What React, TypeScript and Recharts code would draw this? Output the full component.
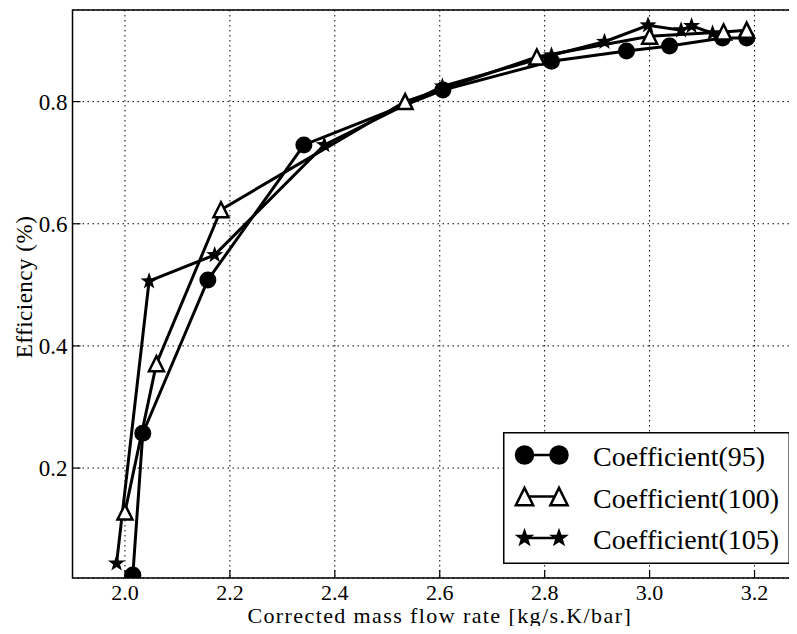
import React from 'react';
import { LineChart, Line, XAxis, YAxis, CartesianGrid, ReferenceArea, Legend } from 'recharts';

// corrected mass flow rate (x) and efficiency (y) per coefficient
const flow95 = [2.015, 2.034, 2.158, 2.341, 2.606, 2.813, 2.956, 3.038, 3.139, 3.185];
const eff95 = [0.025, 0.257, 0.508, 0.729, 0.819, 0.866, 0.883, 0.891, 0.904, 0.904];
const flow100 = [2.0, 2.06, 2.183, 2.534, 2.785, 3.0, 3.141, 3.185];
const eff100 = [0.128, 0.371, 0.623, 0.8, 0.873, 0.907, 0.914, 0.917];
const flow105 = [1.984, 2.046, 2.171, 2.38, 2.605, 2.813, 2.914, 2.997, 3.06, 3.08, 3.12];
const eff105 = [0.044, 0.506, 0.549, 0.729, 0.825, 0.876, 0.898, 0.925, 0.917, 0.924, 0.912];

const xTicks = [2.0, 2.2, 2.4, 2.6, 2.8, 3.0, 3.2];
const yTicks = [0.2, 0.4, 0.6, 0.8];
const seriesNames = ['Coefficient(95)', 'Coefficient(100)', 'Coefficient(105)'];
const markers = ['circle', 'triangle', 'star'];

const FONT = '"Liberation Serif", "Times New Roman", serif';

const toPoints = (xs: number[], ys: number[]) => xs.map((x, i) => ({ x, y: ys[i] }));
const d95 = toPoints(flow95, eff95);
const d100 = toPoints(flow100, eff100);
const d105 = toPoints(flow105, eff105);

const starPath = (cx: number, cy: number, R: number) => {
  const r = R * 0.4;
  let d = '';
  for (let i = 0; i < 10; i++) {
    const a = -Math.PI / 2 + (i * Math.PI) / 5;
    const rad = i % 2 === 0 ? R : r;
    d += (i === 0 ? 'M' : 'L') + (cx + rad * Math.cos(a)).toFixed(2) + ',' + (cy + rad * Math.sin(a)).toFixed(2);
  }
  return d + 'Z';
};

const Marker = ({ kind, cx, cy, scale = 1 }: { kind: string; cx: number; cy: number; scale?: number }) => {
  if (kind === 'circle') return <circle cx={cx} cy={cy} r={8.5 * scale} fill="#000" />;
  if (kind === 'triangle') {
    const h = 7.5 * scale;
    return (
      <path
        d={`M${cx},${cy - h}L${cx - h},${cy + h}L${cx + h},${cy + h}Z`}
        fill="#fff"
        stroke="#000"
        strokeWidth={2.5}
        strokeLinejoin="miter"
      />
    );
  }
  return <path d={starPath(cx, cy, 9 * scale)} fill="#000" />;
};

const dotFor = (kind: string) => (p: any) =>
  <Marker key={`${kind}-${p.index}`} kind={kind} cx={p.cx} cy={p.cy} />;

const XTick = (props: any) => {
  const { x, y, payload } = props;
  return (
    <g>
      <line x1={x} x2={x} y1={y} y2={y - 8} stroke="#000" strokeWidth={1.2} />
      <text x={x} y={y + 22} textAnchor="middle" fontSize={22} fontFamily={FONT} fill="#000">
        {Number(payload.value).toFixed(1)}
      </text>
    </g>
  );
};

const TopTick = (props: any) => {
  const { x, y } = props;
  return <line x1={x} x2={x} y1={y} y2={y + 8} stroke="#000" strokeWidth={1.2} />;
};

const YTick = (props: any) => {
  const { x, y, payload } = props;
  return (
    <g>
      <line x1={x} x2={x + 8} y1={y} y2={y} stroke="#000" strokeWidth={1.2} />
      <text x={x - 5} y={y + 8} textAnchor="end" fontSize={23} fontFamily={FONT} fill="#000">
        {Number(payload.value).toFixed(1)}
      </text>
    </g>
  );
};

const XLabel = (props: any) => {
  const vb = props.viewBox;
  return (
    <text
      x={vb.x + vb.width / 2}
      y={vb.y + vb.height - 11}
      textAnchor="middle"
      fontSize={22}
      letterSpacing={1.4}
      fontFamily={FONT}
      fill="#000"
    >
      Corrected mass flow rate [kg/s.K/bar]
    </text>
  );
};

const YLabel = (props: any) => {
  const vb = props.viewBox;
  const x = vb.x + 31;
  const y = vb.y + vb.height / 2 - 7;
  return (
    <text
      x={x}
      y={y}
      transform={`rotate(-90, ${x}, ${y})`}
      textAnchor="middle"
      fontSize={23}
      letterSpacing={0.5}
      fontFamily={FONT}
      fill="#000"
    >
      Efficiency (%)
    </text>
  );
};

const LegendBox = () => (
  <svg width={287} height={132} style={{ display: 'block' }}>
    <rect x={0.75} y={0.75} width={285.5} height={130.5} fill="#fff" stroke="#000" strokeWidth={1.5} />
    {seriesNames.map((name, i) => {
      const cy = 23 + i * 41.5;
      return (
        <g key={name}>
          <line x1={21.5} x2={56} y1={cy} y2={cy} stroke="#000" strokeWidth={2.5} />
          <Marker kind={markers[i]} cx={21.5} cy={cy} scale={1.15} />
          <Marker kind={markers[i]} cx={56} cy={cy} scale={1.15} />
          <text x={90} y={cy + 11} fontSize={28} fontFamily={FONT} fill="#000">
            {name}
          </text>
        </g>
      );
    })}
  </svg>
);

export default function App() {
  return (
    <div style={{ margin: -8, width: 797, height: 634, overflow: 'hidden', background: '#fff' }}>
      <LineChart width={810} height={634} margin={{ top: 10, right: 3, bottom: 0, left: 0.5 }}>
        <CartesianGrid stroke="#000" strokeDasharray="1.5 3.5" strokeWidth={1} />
        <XAxis
          dataKey="x"
          type="number"
          domain={[1.9, 3.3]}
          ticks={xTicks}
          allowDataOverflow
          height={56}
          axisLine={false}
          tickLine={false}
          tickSize={0}
          tickMargin={0}
          tick={<XTick />}
          label={XLabel}
        />
        <XAxis
          xAxisId="top"
          orientation="top"
          dataKey="x"
          type="number"
          domain={[1.9, 3.3]}
          ticks={xTicks}
          allowDataOverflow
          height={0}
          axisLine={false}
          tickLine={false}
          tickSize={0}
          tickMargin={0}
          tick={<TopTick />}
        />
        <YAxis
          dataKey="y"
          type="number"
          domain={[0.02, 0.95]}
          ticks={yTicks}
          allowDataOverflow
          width={72}
          axisLine={false}
          tickLine={false}
          tickSize={0}
          tickMargin={0}
          tick={<YTick />}
          label={YLabel}
        />
        <ReferenceArea x1={1.9} x2={3.3} y1={0.02} y2={0.95} fill="none" fillOpacity={0} stroke="#000" strokeWidth={1.5} ifOverflow="visible" />
        <Line data={d95} dataKey="y" name={seriesNames[0]} stroke="#000" strokeWidth={3} dot={dotFor('circle')} activeDot={false} isAnimationActive={false} />
        <Line data={d100} dataKey="y" name={seriesNames[1]} stroke="#000" strokeWidth={3} dot={dotFor('triangle')} activeDot={false} isAnimationActive={false} />
        <Line data={d105} dataKey="y" name={seriesNames[2]} stroke="#000" strokeWidth={3} dot={dotFor('star')} activeDot={false} isAnimationActive={false} />
        <Legend
          layout="vertical"
          align="center"
          verticalAlign="middle"
          content={<LegendBox />}
          wrapperStyle={{ left: 503, top: 432, width: 287, height: 132, right: 'auto', bottom: 'auto' }}
        />
      </LineChart>
    </div>
  );
}
